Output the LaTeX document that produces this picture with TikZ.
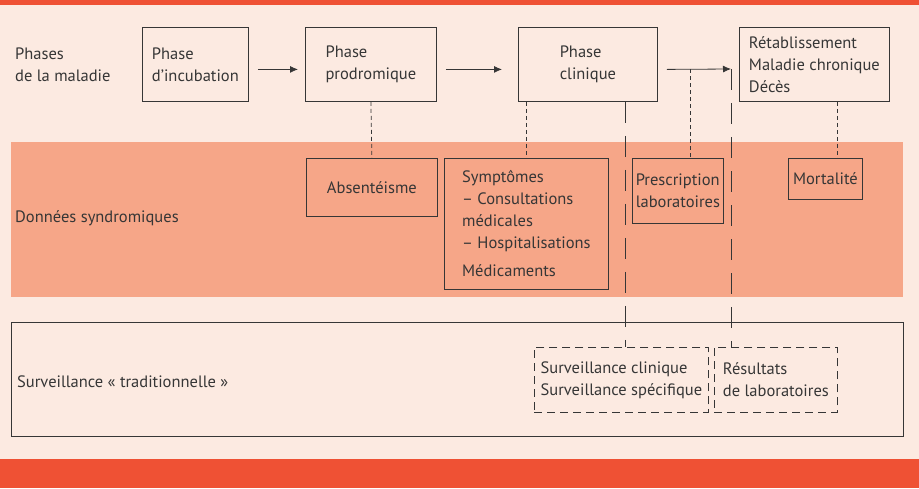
\documentclass[tikz,border=0pt]{standalone}
\usepackage{fontspec}
\setmainfont{PT Sans}
\usetikzlibrary{arrows.meta}
\definecolor{barred}{HTML}{EF5134}
\definecolor{paper}{HTML}{FCEAE1}
\definecolor{band}{HTML}{F6A688}
\definecolor{ink}{HTML}{363636}
\tikzset{
  box/.style={draw=ink,line width=0.8pt,text=ink,align=left,inner sep=0pt,anchor=north west},
  dbox/.style={box,dash pattern=on 8pt off 5pt},
  lbl/.style={text=ink,align=left,anchor=west,inner sep=0pt},
  sdash/.style={draw=ink,line width=0.8pt,dash pattern=on 4pt off 3pt},
  ldash/.style={draw=ink,line width=0.8pt,dash pattern=on 21pt off 13pt},
  arr/.style={draw=ink,line width=0.8pt,-{Latex[length=8pt,width=7pt]}},
}
\begin{document}
\begin{tikzpicture}[x=1pt,y=-1pt,font=\fontsize{16.5}{22}\selectfont]
\useasboundingbox (0,0) rectangle (919,488);
% fond et bandes
\fill[paper] (0,0) rectangle (919,488);
\fill[barred] (0,0) rectangle (919,5);
\fill[barred] (0,459) rectangle (919,488);
\fill[band] (11,142) rectangle (903,297);
\draw[ink,line width=0.8pt] (11,322) rectangle (903,436);
% titres des lignes
\node[lbl] (tphase) at (15,65) {Phases\\de la maladie};
\node[lbl] (tsynd) at (15,218) {Données syndromiques};
\node[lbl] (ttrad) at (17,382) {Surveillance «~traditionnelle~»};
% phases de la maladie
\node[box,minimum width=106pt,minimum height=74pt] (incub) at (142,27) {Phase\\d’incubation};
\node[box,minimum width=131pt,minimum height=74pt] (prodrom) at (305,27) {Phase\\prodromique};
\node[box,minimum width=139pt,minimum height=74pt] (clin) at (518,27) {Phase\\clinique};
\node[box,minimum width=150pt,minimum height=74pt] (issue) at (739,27) {Rétablissement\\Maladie chronique\\Décès};
% données syndromiques
\node[box,minimum width=131pt,minimum height=58pt] (absent) at (306,158) {Absentéisme};
\node[box,minimum width=164pt,minimum height=131pt] (sympt) at (444,158)
  {Symptômes\\– Consultations\\médicales\\– Hospitalisations\\[6pt]Médicaments};
\node[box,minimum width=91pt,minimum height=65pt] (presc) at (632,158) {Prescription\\laboratoires};
\node[box,minimum width=74pt,minimum height=41pt] (mort) at (788,158) {Mortalité};
% surveillance traditionnelle
\node[dbox,minimum width=174pt,minimum height=65pt] (survclin) at (534,347) {Surveillance clinique\\Surveillance spécifique};
\node[dbox,minimum width=123pt,minimum height=65pt] (survlab) at (714,347) {Résultats\\de laboratoires};
% fleches
\coordinate (tip) at (731,69);
\draw[arr] ([shift={(9,5)}]incub.east) -- ([shift={(-7,5)}]prodrom.west);
\draw[arr] ([shift={(9,5)}]prodrom.east) -- ([shift={(-16,5)}]clin.west);
\draw[arr] ([shift={(9,5)}]clin.east) -- (tip);
% liaisons
\draw[sdash] (prodrom.south) -- (absent.north);
\draw[sdash] (sympt.north |- clin.south) -- (sympt.north);
\draw[sdash] ([xshift=12pt]presc.north |- tip) -- ([xshift=12pt]presc.north);
\draw[sdash] ([xshift=12pt]mort.north |- issue.south) -- ([xshift=12pt]mort.north);
\draw[ldash] (clin.south -| 625,0) -- (survclin.north -| 625,0);
\draw[ldash] (tip) -- (survlab.north -| tip);
\end{tikzpicture}
\end{document}
